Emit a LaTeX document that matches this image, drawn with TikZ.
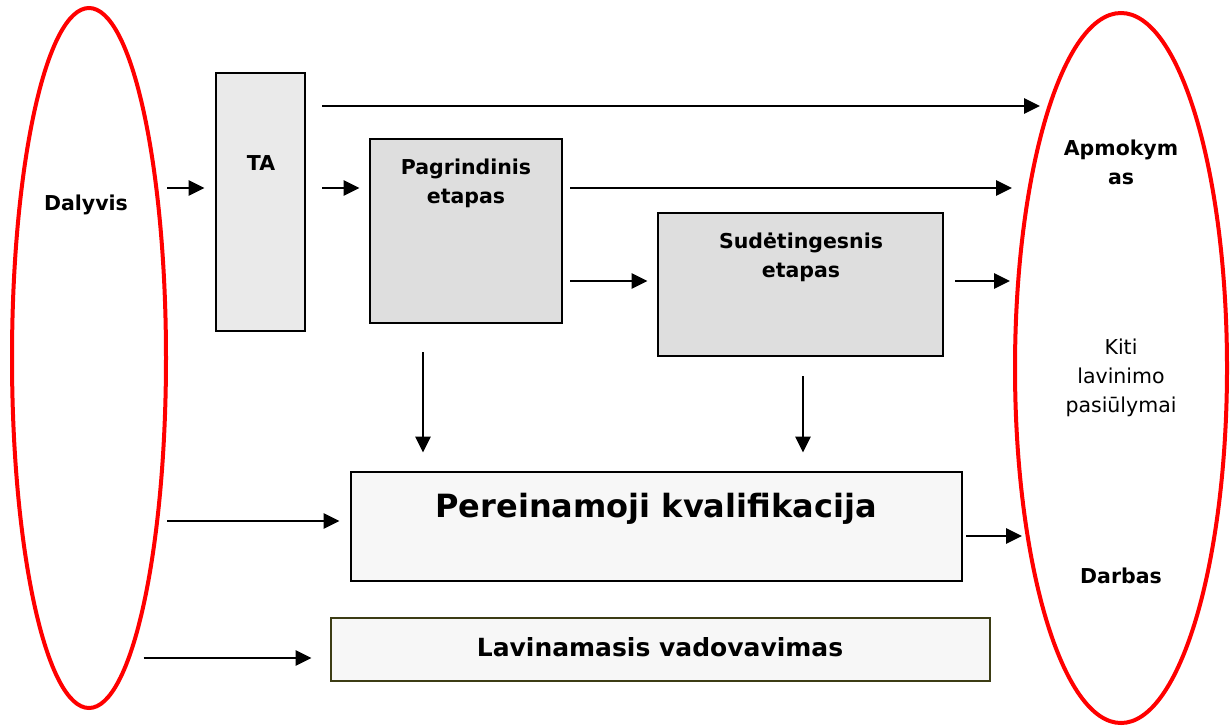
\documentclass[tikz,border=0pt]{standalone}
\usepackage{fontspec}
\setmainfont{DejaVu Sans}
\usetikzlibrary{arrows.meta,shapes.geometric}
\definecolor{taFill}{HTML}{EAEAEA}
\definecolor{stageFill}{HTML}{DEDEDE}
\definecolor{paleFill}{HTML}{F7F7F7}
\definecolor{olive}{RGB}{60,60,20}
\tikzset{
  ell/.style={ellipse, draw=red, line width=4pt, inner sep=0pt},
  boxnode/.style={rectangle, draw=black, line width=2.8pt, inner sep=0pt},
  lbl/.style={inner sep=0pt, anchor=base, font=\fontsize{20.5}{29}\selectfont\bfseries},
  lblreg/.style={inner sep=0pt, anchor=base, font=\fontsize{20.5}{29}\selectfont},
  arr/.style={line width=2.7pt, -{Triangle[length=16pt,width=15pt]}}
}
\begin{document}
\begin{tikzpicture}[x=1pt,y=-1pt]
\useasboundingbox (0,0) rectangle (1230,726);
% ellipses
\node[ell, minimum width=154pt, minimum height=700pt] (dal) at (89,358) {};
\node[ell, minimum width=212pt, minimum height=710pt] (out) at (1121,368) {};
% boxes
\node[boxnode, fill=taFill, minimum width=89pt, minimum height=258pt] (ta) at (260.5,202) {};
\node[boxnode, fill=stageFill, minimum width=192pt, minimum height=184pt] (pag) at (466,231) {};
\node[boxnode, fill=stageFill, minimum width=285pt, minimum height=143pt] (sud) at (800.5,284.5) {};
\node[boxnode, fill=paleFill, minimum width=611pt, minimum height=109pt] (per) at (656.5,526.5) {};
\node[boxnode, draw=olive, fill=paleFill, minimum width=659pt, minimum height=63pt] (lav) at (660.5,649.5) {};
% texts
\node[lbl] (tDal) at (86,210) {Dalyvis};
\node[lbl] (tTA) at (261,170) {TA};
\node[lbl] (tPag1) at (466,174) {Pagrindinis};
\node[lbl] (tPag2) at (466,203) {etapas};
\node[lbl] (tSud1) at (801,248) {Sudėtingesnis};
\node[lbl] (tSud2) at (801,277) {etapas};
\node[lbl, font=\fontsize{32}{38}\selectfont\bfseries] (tPer) at (656,517) {Pereinamoji kvalifikacija};
\node[lbl, font=\fontsize{25}{30}\selectfont\bfseries] (tLav) at (660,656) {Lavinamasis vadovavimas};
\node[lbl] (tApm1) at (1121,155) {Apmokym};
\node[lbl] (tApm2) at (1121,184) {as};
\node[lblreg] (tKiti1) at (1121,354) {Kiti};
\node[lblreg] (tKiti2) at (1121,383) {lavinimo};
\node[lblreg] (tKiti3) at (1121,412) {pasiūlymai};
\node[lbl] (tDarb) at (1121,583) {Darbas};
% free ends at the outcome ellipse
\coordinate (e1) at (1040,106);
\coordinate (e2) at (1012,188);
\coordinate (e3) at (1010,281);
\coordinate (e4) at (1022,536);
% connectors
\draw[arr, shorten <=-1pt, shorten >=10pt] (dal.east |- 0,188) -- (ta.west |- 0,188);
\draw[arr, shorten <=16pt, shorten >=9pt] (ta.east |- 0,188) -- (pag.west |- 0,188);
\draw[arr, shorten <=16pt] (ta.east |- 0,106) -- (e1);
\draw[arr, shorten <=7pt] (pag.east |- 0,188) -- (e2);
\draw[arr, shorten <=7pt, shorten >=9pt] (pag.east |- 0,281) -- (sud.west |- 0,281);
\draw[arr, shorten <=11pt] (sud.east |- 0,281) -- (e3);
\draw[arr, shorten <=28pt, shorten >=18pt] (pag.south -| 423,0) -- (per.north -| 423,0);
\draw[arr, shorten <=19pt, shorten >=18pt] (sud.south -| 803,0) -- (per.north -| 803,0);
\draw[arr, shorten <=-1pt, shorten >=10pt] (dal.east |- 0,521) -- (per.west |- 0,521);
\draw[arr, shorten <=3pt] (per.east |- 0,536) -- (e4);
\draw[arr, shorten <=-24.5pt, shorten >=18pt] (dal.east |- 0,658) -- (lav.west |- 0,658);
\end{tikzpicture}
\end{document}
